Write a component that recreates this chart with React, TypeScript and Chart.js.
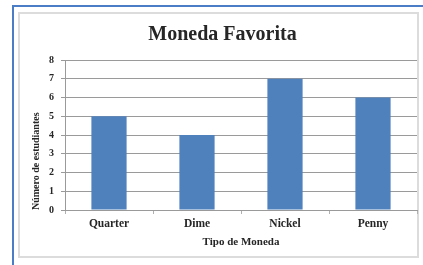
import React, { useEffect, useRef } from "react";
import { Chart, registerables } from "chart.js";

Chart.register(...registerables);

const chartTitle = "Moneda Favorita";
const categories = ["Quarter", "Dime", "Nickel", "Penny"];
const values = [5, 4, 7, 6];
const yTitle = "Número de estudiantes";
const xTitle = "Tipo de Moneda";
const yMin = 0;
const yMax = 8;
const yStep = 1;

const FONT = "'Liberation Serif', 'Times New Roman', serif";
const TEXT = "#262626";

export default function App() {
  const ref = useRef<HTMLCanvasElement | null>(null);

  useEffect(() => {
    if (!ref.current) return;
    const chart = new Chart(ref.current, {
      type: "bar",
      data: {
        labels: categories,
        datasets: [
          {
            data: values,
            backgroundColor: "#4F81BD",
            borderWidth: 0,
            barPercentage: 0.4,
            categoryPercentage: 1,
          },
        ],
      },
      options: {
        responsive: false,
        animation: false,
        layout: { padding: { left: 28, right: 6, top: 12, bottom: 8 } },
        plugins: {
          legend: { display: false },
          tooltip: { enabled: false },
          title: {
            display: true,
            text: chartTitle,
            color: TEXT,
            font: { family: FONT, size: 20, weight: "bold", lineHeight: 1.2 },
            padding: { top: 11, bottom: 13 },
          },
        },
        scales: {
          x: {
            grid: {
              display: true,
              drawOnChartArea: false,
              drawTicks: true,
              tickLength: 4,
              offset: true,
              color: "#b0b0b0",
            },
            border: { display: true, color: "#9a9a9a" },
            ticks: {
              color: TEXT,
              padding: 3,
              font: { family: FONT, size: 11.5, weight: "bold" },
            },
            title: {
              display: true,
              text: xTitle,
              color: TEXT,
              font: { family: FONT, size: 11, weight: "bold", lineHeight: 1.2 },
              padding: { top: 0, bottom: 8 },
            },
            afterFit: (scale: any) => {
              scale.height = 47;
            },
          },
          y: {
            min: yMin,
            max: yMax,
            grid: {
              color: "#9a9a9a",
              drawTicks: true,
              tickLength: 4,
            },
            border: { display: true, color: "#9a9a9a" },
            ticks: {
              stepSize: yStep,
              color: TEXT,
              padding: 7,
              font: { family: FONT, size: 10, weight: "bold" },
            },
            title: {
              display: true,
              text: yTitle,
              align: "start",
              color: TEXT,
              font: { family: FONT, size: 10, weight: "bold", lineHeight: 1.2 },
              padding: { top: 2, bottom: 0 },
            },
            afterFit: (scale: any) => {
              scale.width = 37;
            },
          },
        },
      },
    });
    return () => chart.destroy();
  }, []);

  return (
    <div
      style={{
        position: "absolute",
        left: 0,
        top: 0,
        width: 423,
        height: 265,
        background: "#ffffff",
        overflow: "hidden",
      }}
    >
      <div
        style={{
          position: "absolute",
          left: 12,
          top: 5,
          width: 411,
          height: 2,
          background: "#4a7dc5",
        }}
      />
      <div
        style={{
          position: "absolute",
          left: 12,
          top: 5,
          width: 2,
          height: 260,
          background: "#4a7dc5",
        }}
      />
      <div
        style={{
          position: "absolute",
          left: 18,
          top: 12,
          width: 401,
          height: 246,
          border: "2px solid #dcdcdc",
          boxSizing: "border-box",
        }}
      />
      <canvas
        ref={ref}
        width={423}
        height={265}
        style={{ position: "absolute", left: 0, top: 0, width: 423, height: 265 }}
      />
    </div>
  );
}
